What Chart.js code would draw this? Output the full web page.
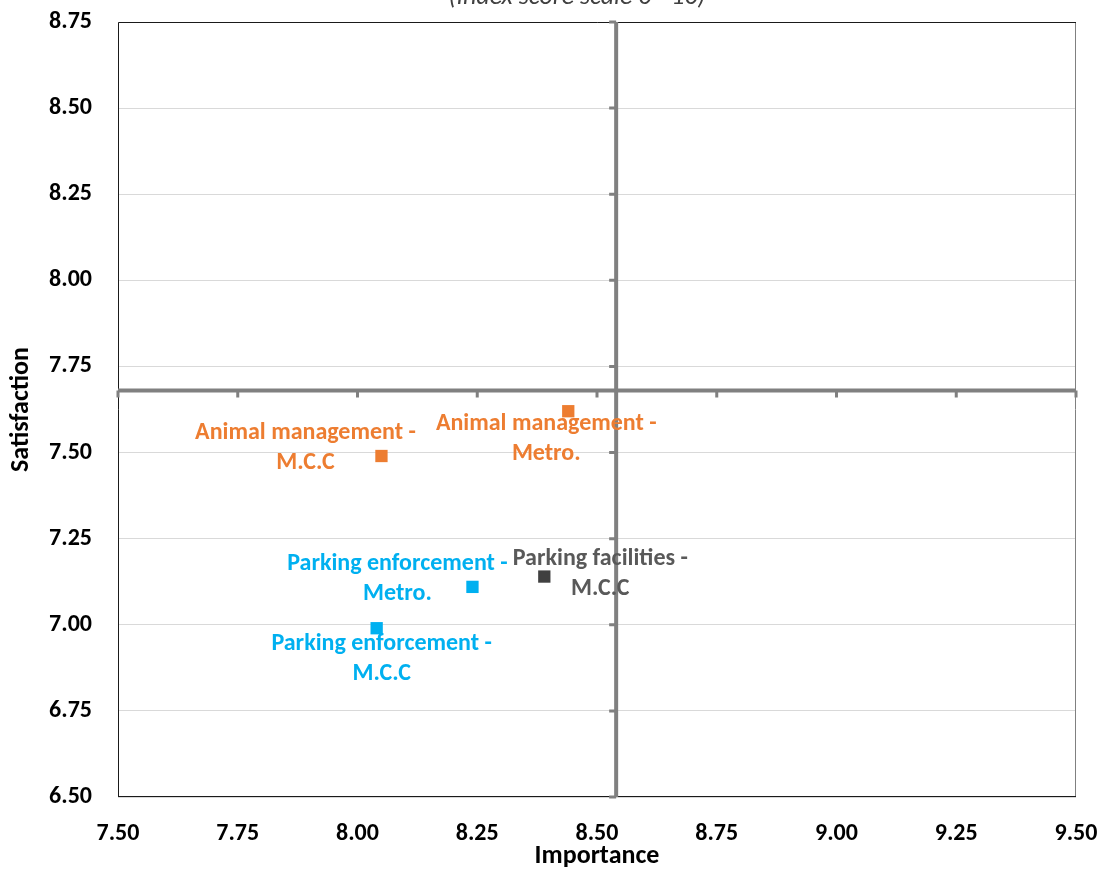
<!DOCTYPE html>
<html><head><meta charset="utf-8">
<script src="https://cdn.jsdelivr.net/npm/chart.js@4"></script>
<style>html,body{margin:0;padding:0;background:#fff;}#wrap{width:1104px;height:870px;position:relative;}</style>
</head><body><div id="wrap"><canvas id="c" width="1104" height="870"></canvas></div>
<script>
const labelLines = [
  ["Animal management -", "Metro."],
  ["Animal management -", "M.C.C"],
  ["Parking enforcement -", "Metro."],
  ["Parking enforcement -", "M.C.C"],
  ["Parking facilities -", "M.C.C"]
];
const importance = [8.44, 8.05, 8.24, 8.04, 8.39];
const satisfaction = [7.62, 7.49, 7.11, 6.99, 7.14];
const pointColors = ["#ED7D31", "#ED7D31", "#00B0F0", "#00B0F0", "#404040"];
const textColors = ["#ED7D31", "#ED7D31", "#00B0F0", "#00B0F0", "#595959"];
const labelOffsets = [[-22, 13], [-76, -23], [-75, -23], [5, 16], [56, -18]];
const crossX = 8.54;
const crossY = 7.68;
const xTitle = "Importance";
const yTitle = "Satisfaction";
const subTitle = "(Index score scale 0 - 10)";
const FONT = "Carlito, Lato, 'Open Sans', sans-serif";

const pts = importance.map((x, i) => ({x: x, y: satisfaction[i]}));

const overlay = {
  id: 'overlay',
  beforeDatasetsDraw(chart) {
    const {ctx, chartArea: a, scales: {x, y}} = chart;
    ctx.save();
    ctx.strokeStyle = '#808080'; ctx.lineWidth = 1;
    ctx.beginPath(); ctx.moveTo(a.right - 0.5, a.top); ctx.lineTo(a.right - 0.5, a.bottom); ctx.stroke();
    ctx.strokeStyle = '#1a1a1a';
    ctx.beginPath();
    ctx.moveTo(a.left + 0.5, a.bottom); ctx.lineTo(a.left + 0.5, a.top + 0.5); ctx.lineTo(a.right, a.top + 0.5);
    ctx.moveTo(a.left, a.bottom - 0.5); ctx.lineTo(a.right, a.bottom - 0.5);
    ctx.stroke();
    const px = x.getPixelForValue(crossX), py = y.getPixelForValue(crossY);
    ctx.strokeStyle = '#808080'; ctx.lineWidth = 4;
    ctx.beginPath();
    ctx.moveTo(px, a.top); ctx.lineTo(px, a.bottom);
    ctx.moveTo(a.left, py); ctx.lineTo(a.right, py);
    ctx.stroke();
    ctx.lineWidth = 3;
    ctx.beginPath();
    x.ticks.forEach(t => { const tx = x.getPixelForValue(t.value); ctx.moveTo(tx, py); ctx.lineTo(tx, py + 7); });
    y.ticks.forEach(t => { const ty = y.getPixelForValue(t.value); ctx.moveTo(px, ty); ctx.lineTo(px - 7, ty); });
    ctx.stroke();
    ctx.restore();
  },
  afterDatasetsDraw(chart) {
    const {ctx} = chart;
    const meta = chart.getDatasetMeta(0);
    ctx.save();
    ctx.font = "bold 24px " + FONT;
    ctx.textAlign = 'center'; ctx.textBaseline = 'middle';
    meta.data.forEach((el, i) => {
      ctx.fillStyle = textColors[i];
      const cx = el.x + labelOffsets[i][0], cy = el.y + labelOffsets[i][1];
      labelLines[i].forEach((ln, k) => ctx.fillText(ln, cx, cy + k * 30));
    });
    ctx.font = "italic 26px " + FONT;
    ctx.fillStyle = '#404040';
    ctx.textBaseline = 'alphabetic';
    ctx.fillText(subTitle, 577, 4);
    ctx.restore();
  }
};

new Chart(document.getElementById('c'), {
  type: 'scatter',
  data: {datasets: [{
    data: pts,
    pointStyle: 'rect',
    pointRadius: 8.7,
    pointHoverRadius: 8.7,
    pointBackgroundColor: pointColors,
    pointBorderColor: pointColors,
    pointBorderWidth: 0
  }]},
  options: {
    responsive: false,
    animation: false,
    events: [],
    layout: {padding: {top: 22, right: 28, left: 0, bottom: 0}},
    plugins: {legend: {display: false}, tooltip: {enabled: false}},
    scales: {
      x: {
        type: 'linear', min: 7.5, max: 9.5,
        afterFit(s) { s.height = 73; s.paddingLeft = 0; s.paddingRight = 0; },
        border: {display: false},
        grid: {display: false, drawTicks: false},
        ticks: {stepSize: 0.25, padding: 23, color: '#000', font: {family: FONT, size: 24, weight: 'bold'},
          callback: v => Number(v).toFixed(2)},
        title: {display: true, text: xTitle, color: '#000', font: {family: FONT, size: 26, weight: 'bold'}, padding: {top: 0, bottom: -2}}
      },
      y: {
        type: 'linear', min: 6.5, max: 8.75,
        afterFit(s) { s.width = 118; s.paddingTop = 0; s.paddingBottom = 0; },
        border: {display: false},
        grid: {color: '#d9d9d9', lineWidth: 1, drawTicks: false},
        ticks: {stepSize: 0.25, padding: 26, color: '#000', font: {family: FONT, size: 24, weight: 'bold'},
          callback: v => Number(v).toFixed(2)},
        title: {display: true, text: yTitle, color: '#000', font: {family: FONT, size: 26, weight: 'bold'}, padding: {top: 6, bottom: 0}}
      }
    }
  },
  plugins: [overlay]
});
</script></body></html>
